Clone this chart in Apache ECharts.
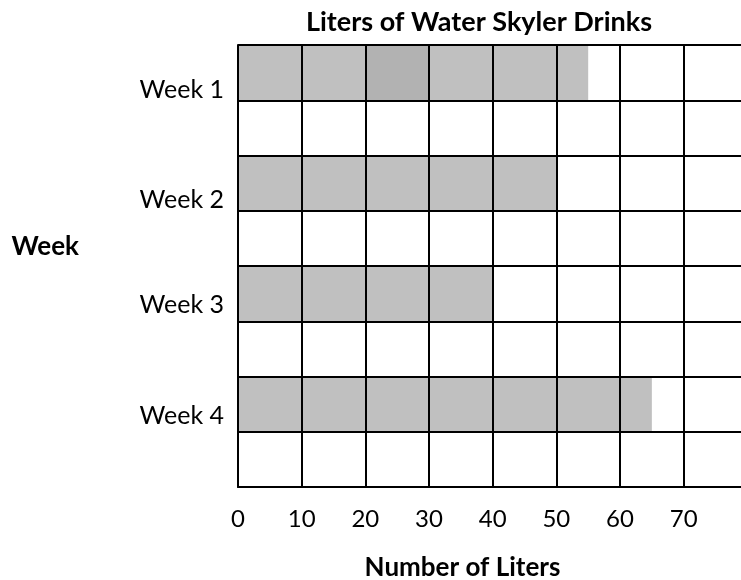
<!DOCTYPE html>
<html>
<head>
<meta charset="utf-8">
<script src="https://cdn.jsdelivr.net/npm/echarts@6/dist/echarts.min.js"></script>
<style>
  html, body { margin: 0; padding: 0; background: #fff; }
  #chart { width: 741px; height: 580px; }
</style>
</head>
<body>
<div id="chart"></div>
<script>
  // data
  let weeks = ['Week 1', 'Week 2', 'Week 3', 'Week 4'];
  let liters = [55, 50, 40, 65];
  let shadedWeek = 'Week 1';      // one cell drawn a bit darker
  let shadedRange = [20, 30];
  let xTicks = [0, 10, 20, 30, 40, 50, 60, 70];

  // every week is followed by an empty row on the grid
  let rows = [];
  weeks.forEach((w, i) => {
    rows.push(w);
    rows.push('gap' + i);
  });

  let before = [], dark = [], after = [];
  rows.forEach(r => {
    let i = weeks.indexOf(r);
    if (i < 0) {
      before.push('-'); dark.push('-'); after.push('-');
    } else if (r === shadedWeek) {
      before.push(shadedRange[0]);
      dark.push(shadedRange[1] - shadedRange[0]);
      after.push(liters[i] - shadedRange[1]);
    } else {
      before.push(liters[i]); dark.push('-'); after.push('-');
    }
  });

  let font = 'Lato';
  let chart = echarts.init(document.getElementById('chart'));
  let barBase = {
    type: 'bar',
    stack: 'liters',
    barWidth: '100%',
    z: 1,
    silent: true
  };

  chart.setOption({
    animation: false,
    title: {
      text: 'Liters of Water Skyler Drinks',
      left: 474,
      top: 4,
      textAlign: 'center',
      textStyle: { fontFamily: font, fontWeight: 'bold', fontSize: 27, color: '#000' }
    },
    grid: { left: 238, right: 0, top: 45, bottom: 93, containLabel: false, outerBoundsMode: 'none' },
    xAxis: {
      type: 'value',
      min: 0,
      max: 79,
      interval: 10,
      z: 3,
      name: '{n|Number of Liters}',
      nameLocation: 'middle',
      nameGap: 68,
      nameTextStyle: {
        fontFamily: font, fontWeight: 'bold', fontSize: 26, color: '#000',
        rich: { n: { fontFamily: font, fontWeight: 'bold', fontSize: 26, color: '#000', padding: [0, 54, 0, 0] } }
      },
      axisLine: { show: true, lineStyle: { color: '#000', width: 2 } },
      axisTick: { show: false },
      splitLine: { show: true, showMaxLine: false, lineStyle: { color: '#000', width: 2 } },
      axisLabel: {
        margin: 20,
        showMaxLabel: false,
        fontFamily: font,
        fontSize: 24,
        color: '#000',
        // the "30" sits a little higher in the original
        formatter: v => {
          if (xTicks.indexOf(v) < 0) return '';
          return v === 30 ? '{up|30}' : String(v);
        },
        rich: {
          up: { fontFamily: font, fontSize: 24, color: '#000', padding: [0, 0, 6, 0] }
        }
      }
    },
    yAxis: {
      type: 'category',
      data: rows,
      inverse: true,
      z: 3,
      name: '{n|Week}',
      nameLocation: 'middle',
      nameRotate: 0,
      nameGap: 159,
      nameTextStyle: {
        fontFamily: font, fontWeight: 'bold', fontSize: 26, color: '#000',
        rich: { n: { fontFamily: font, fontWeight: 'bold', fontSize: 26, color: '#000', padding: [0, 0, 38, 0] } }
      },
      axisLine: { show: true, lineStyle: { color: '#000', width: 2 } },
      axisTick: { show: false },
      splitLine: { show: true, lineStyle: { color: '#000', width: 2 } },
      axisLabel: {
        margin: 14,
        interval: 0,
        fontFamily: font,
        fontSize: 25,
        color: '#000',
        formatter: v => {
          let i = weeks.indexOf(v);
          if (i < 0) return '';
          return (i < 2 ? '{a|' : '{b|') + v + '}';
        },
        rich: {
          a: { fontFamily: font, fontSize: 25, color: '#000', padding: [34, 0, 0, 0] },
          b: { fontFamily: font, fontSize: 25, color: '#000', padding: [23, 0, 0, 0] }
        }
      }
    },
    series: [
      Object.assign({}, barBase, { name: 'liters', data: before, itemStyle: { color: '#c0c0c0' } }),
      Object.assign({}, barBase, { name: 'shaded', data: dark, itemStyle: { color: '#b2b2b2' } }),
      Object.assign({}, barBase, { name: 'rest', data: after, itemStyle: { color: '#c0c0c0' } })
    ]
  });
</script>
</body>
</html>
